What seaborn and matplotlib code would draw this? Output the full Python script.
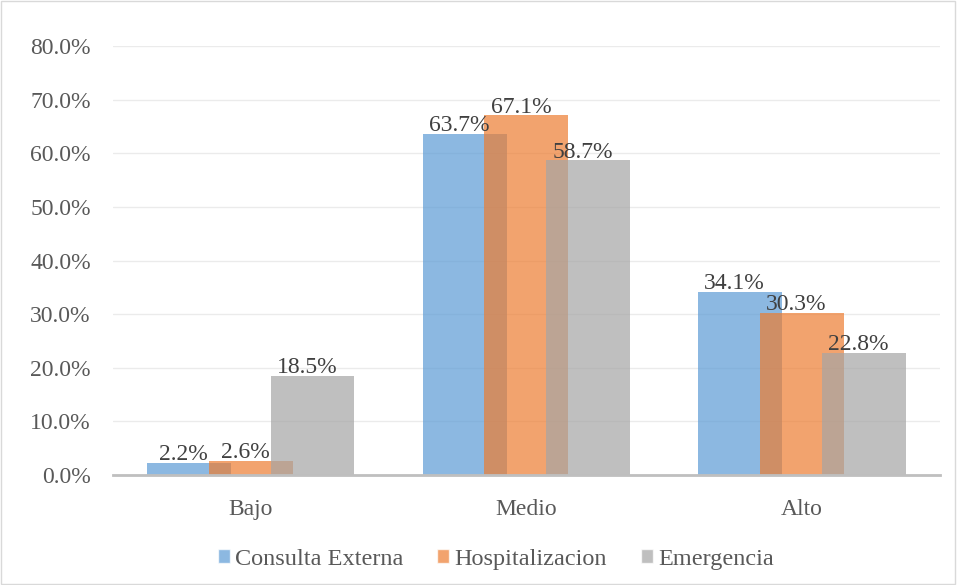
import matplotlib
matplotlib.use("Agg")
import matplotlib.pyplot as plt
import seaborn as sns
import pandas as pd
from matplotlib.patches import Rectangle
from matplotlib.ticker import FuncFormatter

categories = ["Bajo", "Medio", "Alto"]
series = ["Consulta Externa", "Hospitalizacion", "Emergencia"]
consulta = [2.2, 63.7, 34.1]
hospital = [2.6, 67.1, 30.3]
emergencia = [18.5, 58.7, 22.8]
colors = ["#5B9BD5", "#ED7D31", "#A5A5A5"]

rows = []
for s, vals in zip(series, [consulta, hospital, emergencia]):
    for c, v in zip(categories, vals):
        rows.append({"cat": c, "serie": s, "val": v / 100})
df = pd.DataFrame(rows)

sns.set_style("white")
plt.rcParams["font.family"] = ["Liberation Serif", "DejaVu Serif"]

fig = plt.figure(figsize=(9.57, 5.85), dpi=100)
ax = fig.add_axes([0.118, 0.188, 0.864, 0.733])

step = 0.224
bw = 0.304
sns.barplot(data=df, x="cat", y="val", hue="serie", order=categories,
            hue_order=series, palette=colors, width=step * 3, alpha=0.7,
            saturation=1, errorbar=None, legend=False, ax=ax, linewidth=0)

for p in ax.patches:
    cx = p.get_x() + p.get_width() / 2
    p.set_x(cx - bw / 2)
    p.set_width(bw)
    h = p.get_height()
    ax.text(cx - 0.02, h - 0.004, f"{h*100:.1f}%", ha="center", va="bottom",
            fontsize=17, color="#404040")

ax.set_xlim(-0.5, 2.5)
ax.set_ylim(0, 0.8)
ax.set_yticks([i / 10 for i in range(9)])
ax.yaxis.set_major_formatter(FuncFormatter(lambda v, p: f"{v*100:.1f}%"))
ax.grid(axis="y", color="#EBEBEB", linewidth=1)
ax.set_axisbelow(True)
for s in ["top", "right", "left"]:
    ax.spines[s].set_visible(False)
ax.spines["bottom"].set_color("#BFBFBF")
ax.spines["bottom"].set_linewidth(2)
ax.tick_params(axis="both", length=0, labelsize=17, colors="#595959")
ax.tick_params(axis="x", pad=17)
ax.tick_params(axis="y", pad=16)
ax.set_xlabel("")
ax.set_ylabel("")

handles = [Rectangle((0, 0), 1, 1, facecolor=c, alpha=0.7) for c in colors]
fig.legend(handles, series, loc="center", bbox_to_anchor=(0.518, 0.044), ncol=3,
           frameon=False, fontsize=17.5, handlelength=0.5, handleheight=0.5,
           handletextpad=0.2, columnspacing=1.4, labelcolor="#595959")

fig.add_artist(Rectangle((0.001, 0.001), 0.997, 0.997, transform=fig.transFigure,
                         fill=False, edgecolor="#D9D9D9", linewidth=1))

fig.savefig("out.png", dpi=100)
